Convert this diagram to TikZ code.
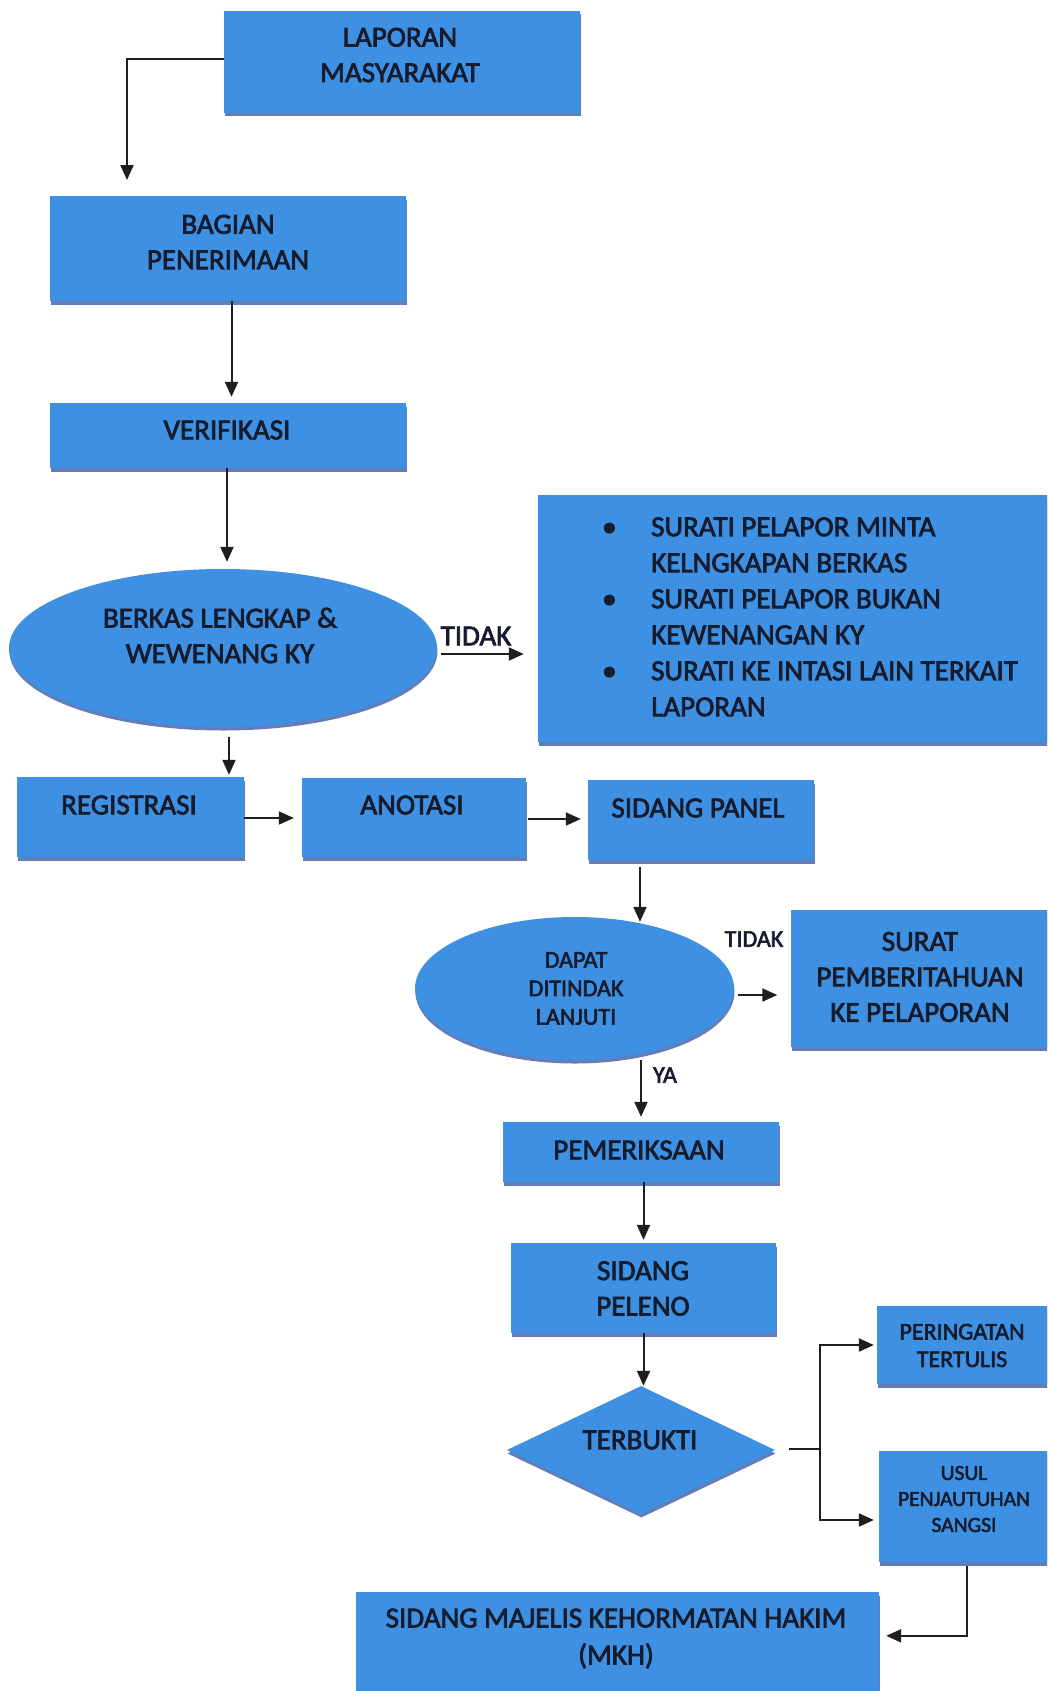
\documentclass[tikz,border=0pt]{standalone}
\usepackage{fontspec}
\setmainfont{Carlito}[UprightFeatures={FakeBold=2.5}]
\usetikzlibrary{arrows.meta,shapes.geometric,shadows,calc}
\definecolor{boxblue}{RGB}{62,144,226}
\definecolor{shadowblue}{RGB}{100,125,185}
\definecolor{txtc}{RGB}{22,28,45}
\definecolor{linec}{RGB}{30,30,30}
\newcommand\fmain{\fontsize{29}{35.5}\selectfont}
\newcommand\fbul{\fontsize{29}{36}\selectfont}
\newcommand\fsm{\fontsize{24}{28.5}\selectfont}
\newcommand\fper{\fontsize{24}{27.5}\selectfont}
\newcommand\fusul{\fontsize{21.5}{26}\selectfont}
\newcommand\fmkh{\fontsize{29}{37}\selectfont}
\tikzset{
  shd/.style={drop shadow={shadow xshift=0.5pt, shadow yshift=-3.5pt, fill=shadowblue, opacity=1}},
  boxn/.style={rectangle, fill=boxblue, inner sep=0pt, shd},
  elln/.style={ellipse, fill=boxblue, inner sep=0pt, shd},
  dian/.style={diamond, fill=boxblue, inner sep=0pt, shd},
  txt/.style={text=txtc, align=center, inner sep=0pt, font=\fmain},
  lbl/.style={text=txtc, inner sep=0pt, font=\fsm},
  arr/.style={draw=linec, line width=2pt, -{Triangle[width=13pt,length=15pt]}},
  ln/.style={draw=linec, line width=2pt}
}
\begin{document}
\begin{tikzpicture}[x=1pt,y=-1pt]
\useasboundingbox (0,0) rectangle (1047,1691);
\clip (0,0) rectangle (1047,1691);
\fill[white] (0,0) rectangle (1047,1691);

% boxes
\node[boxn, minimum width=356pt, minimum height=102pt] (lap) at (402,62) {};
\node[boxn, minimum width=356pt, minimum height=105pt] (bag) at (228,248.5) {};
\node[boxn, minimum width=356pt, minimum height=65pt] (ver) at (228,435.5) {};
\node[elln, minimum width=428pt, minimum height=158pt] (berkas) at (223,648) {};
\node[boxn, minimum width=522pt, minimum height=247pt] (big) at (799,618.5) {};
\node[boxn, minimum width=227pt, minimum height=80pt] (reg) at (130.5,817) {};
\node[boxn, minimum width=224pt, minimum height=79pt] (ano) at (414,817.5) {};
\node[boxn, minimum width=226pt, minimum height=80pt] (sp) at (701,820) {};
\node[elln, minimum width=319pt, minimum height=143pt] (dapat) at (574.5,988.5) {};
\node[boxn, minimum width=269pt, minimum height=137pt] (surat) at (925.5,978.5) {};
\node[boxn, minimum width=276pt, minimum height=60pt] (pem) at (641,1152) {};
\node[boxn, minimum width=265pt, minimum height=90pt] (pel) at (643.5,1288) {};
\node[dian, minimum width=268pt, minimum height=128pt] (dia) at (641,1450) {};
\node[boxn, minimum width=183pt, minimum height=78pt] (per) at (968.5,1345) {};
\node[boxn, minimum width=181pt, minimum height=111pt] (usul) at (969.5,1506.5) {};
\node[boxn, minimum width=523pt, minimum height=108pt] (mkh) at (617.5,1646) {};

% texts
\node[txt] (lapt) at (400,55) {LAPORAN\\MASYARAKAT};
\node[txt] (bagt) at (228,242) {BAGIAN\\PENERIMAAN};
\node[txt] (vert) at (227,430) {VERIFIKASI};
\node[txt] (berkast) at (220,635.5) {BERKAS LENGKAP \&\\WEWENANG KY};
\node[txt] (tidaka) at (476,636) {TIDAK};
\node[txt, anchor=west, align=left, font=\fbul] (bul) at (602,619) {\begin{tabular}{@{}p{49pt}@{}l@{}}\textbullet&SURATI PELAPOR MINTA\\&KELNGKAPAN BERKAS\\\textbullet&SURATI PELAPOR BUKAN\\&KEWENANGAN KY\\\textbullet&SURATI KE INTASI LAIN TERKAIT\\&LAPORAN\end{tabular}};
\node[txt] (regt) at (129,805) {REGISTRASI};
\node[txt] (anot) at (412,805) {ANOTASI};
\node[txt] (spt) at (698,808) {SIDANG PANEL};
\node[txt, font=\fsm] (dapatt) at (576,988.5) {DAPAT\\DITINDAK\\LANJUTI};
\node[lbl] (tidakb) at (754,939) {TIDAK};
\node[txt] (surt) at (920,977) {SURAT\\PEMBERITAHUAN\\KE PELAPORAN};
\node[lbl] (ya) at (665,1075) {YA};
\node[txt] (pemt) at (639,1150) {PEMERIKSAAN};
\node[txt] (pelt) at (643,1288.5) {SIDANG\\PELENO};
\node[txt] (terbt) at (640,1440) {TERBUKTI};
\node[txt, font=\fper] (pert) at (962,1345.5) {PERINGATAN\\TERTULIS};
\node[txt, font=\fusul] (usult) at (964,1499) {USUL\\PENJAUTUHAN\\SANGSI};
\node[txt, font=\fmkh] (mkht) at (616,1638.5) {SIDANG MAJELIS KEHORMATAN HAKIM\\(MKH)};

% connectors
\coordinate (c1) at (127,180);
\draw[arr] ([yshift=3pt]lap.west) -| (c1);
\draw[arr] ([xshift=3.5pt]bag.south) -- ($(ver.north)+(3.5pt,6pt)$);
\draw[arr] ([xshift=-1pt]ver.south) -- ($(berkas.north)+(4pt,7pt)$);
\draw[arr] ($(berkas.east)+(4pt,-6pt)$) -- ($(berkas.east -| big.west)+(-14pt,-6pt)$);
\draw[arr] ($(berkas.south)+(6pt,-10pt)$) -- ($(berkas.south |- reg.north)+(6pt,2pt)$);
\draw[arr] ($(reg.east)+(0,-1pt)$) -- ($(reg.east -| ano.west)+(-8pt,-1pt)$);
\draw[arr] ($(ano.east)+(2pt,-1.5pt)$) -- ($(ano.east -| sp.west)+(-7pt,-1.5pt)$);
\draw[arr] ($(sp.south)+(-61pt,-7pt)$) -- ($(dapat.north)+(65.5pt,-5pt)$);
\draw[arr] ($(dapat.east)+(4pt,-6.5pt)$) -- ($(dapat.east -| surat.west)+(-13.5pt,-6.5pt)$);
\draw[arr] (dapat.south -| pem.north) -- ($(pem.north)+(0,5pt)$);
\draw[arr] (pem.south -| pel.north) -- ($(pel.north)+(0,3pt)$);
\draw[arr] (pel.south) -- (pel.south |- dia.north);
\coordinate (br) at (820,1449);
\draw[ln] ($(dia.east)+(13.5pt,1pt)$) -- (br);
\draw[arr] (br) |- ($(per.west)+(-3pt,0)$);
\draw[arr] (br) |- ($(usul.west)+(-5pt,-13.5pt)$);
\draw[arr] ($(usul.south west)+(88pt,-4pt)$) |- ($(mkh.north east)+(7pt,-44pt)$);
\end{tikzpicture}
\end{document}
